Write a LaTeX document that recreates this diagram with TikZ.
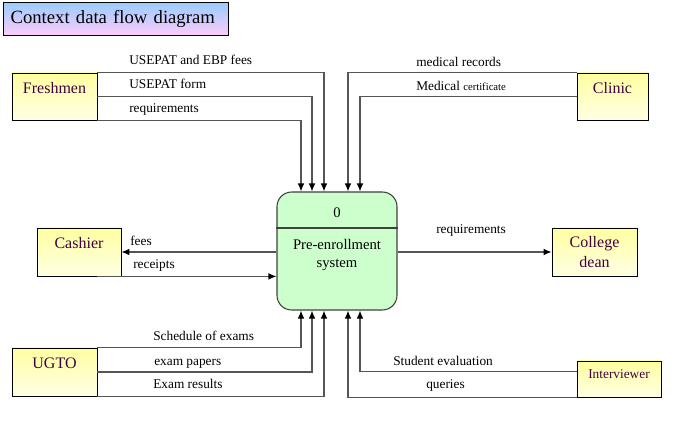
\documentclass[tikz,border=0pt]{standalone}
\usepackage{fontspec}
\setmainfont{Liberation Serif}
\usepackage{xcolor}
\usepackage{tikz}
\usetikzlibrary{arrows.meta, positioning, calc}

\definecolor{entTop}{RGB}{255,255,160}
\definecolor{entBot}{RGB}{255,255,228}
\definecolor{entText}{RGB}{64,0,64}
\definecolor{procFill}{RGB}{204,255,204}
\definecolor{flowGray}{RGB}{85,85,85}
\definecolor{titleTop}{RGB}{153,204,255}
\definecolor{titleBot}{RGB}{255,204,250}

\begin{document}
\begin{tikzpicture}[x=0.75pt, y=-0.75pt,
  entity/.style={draw=black, line width=0.6pt, top color=entTop, bottom color=entBot,
    inner sep=0pt, font=\fontsize{12}{14.5}\selectfont, text=entText, align=center},
  ent1/.style={entity, text height=8pt, text depth=13pt},
  flow/.style={draw=flowGray, line width=0.9pt, -{Latex[length=6pt, width=5pt, color=black]}},
  flabel/.style={font=\fontsize{10}{12}\selectfont, inner sep=0pt, anchor=base west}]
  % context DFD, pixel grid 686x434, y downwards
  \useasboundingbox (0,0) rectangle (686,434);

  % title
  \node[draw=black, line width=0.6pt, top color=titleTop, bottom color=titleBot,
        minimum height=24.75pt, text width=158pt, inner xsep=5.4pt, inner ysep=0pt,
        align=left, anchor=north west, font=\fontsize{14}{16}\selectfont]
        (title) at (3,2) {Context data flow diagram};

  % process 0
  \node[draw=black!75, line width=0.8pt, fill=procFill, rounded corners=11pt,
        minimum width=90pt, minimum height=88.5pt, align=center,
        font=\fontsize{11}{13.5}\selectfont] (proc) at (337,251)
        {\rule{0pt}{14pt}Pre-enrollment\\system};
  \draw[draw=black!75, line width=0.8pt] (proc.west |- 0,228) -- (proc.east |- 0,228);
  \node[font=\fontsize{11}{13.5}\selectfont] (pnum) at (337,213) {0};

  % external entities
  \node[ent1, minimum width=63.75pt, minimum height=35.25pt] (fresh) at (54.5,96.5) {Freshmen};
  \node[ent1, minimum width=53.25pt, minimum height=35.25pt] (clinic) at (612.5,96.5) {Clinic};
  \node[ent1, minimum width=63pt, minimum height=36pt] (cashier) at (79,252) {Cashier};
  \node[entity, minimum width=63.75pt, minimum height=36pt] (dean) at (594.5,252) {College\\dean};
  \node[ent1, minimum width=63.75pt, minimum height=36pt] (ugto) at (54.5,372) {UGTO};
  \node[ent1, minimum width=63pt, minimum height=27pt, text depth=8pt,
        font=\fontsize{10}{12}\selectfont] (interv) at (619,379) {Interviewer};

  % arrow entry points on top and bottom of the process
  \foreach \n/\dx in {1/-36, 2/-25, 3/-13, 4/11, 5/23} {
    \coordinate (t\n) at ($(proc.north)+(\dx,0)$);
    \coordinate (b\n) at ($(proc.south)+(\dx,0)$);
  }
  \coordinate (rcpt) at ($(cashier.south east)+(-24,0)$);
  \coordinate (ieval) at ($(interv.north west)!0.3!(interv.south west)$);

  % flows
  \draw[flow] (fresh.north east) -| (t3);
  \draw[flow] (fresh.east) -| (t2);
  \draw[flow] (fresh.south east) -| (t1);
  \draw[flow] (clinic.north west) -| (t4);
  \draw[flow] (clinic.west) -| (t5);
  \draw[flow] (proc.west |- cashier.east) -- (cashier.east);
  \draw[flow] (rcpt) -- (rcpt -| proc.west);
  \draw[flow] (proc.east |- dean.west) -- (dean.west);
  \draw[flow] (ugto.north east) -| (b1);
  \draw[flow] (ugto.east) -| (b2);
  \draw[flow] (ugto.south east) -| (b3);
  \draw[flow] (interv.south west) -| (b4);
  \draw[flow] (ieval) -| (b5);

  % flow labels
  \node[flabel] (lfees1) at (129,65) {USEPAT and EBP fees};
  \node[flabel] (lform) at (129,89) {USEPAT form};
  \node[flabel] (lreq1) at (129,113) {requirements};
  \node[flabel] (lmed) at (416,67) {medical records};
  \node[flabel] (lcert) at (416,91) {Medical {\fontsize{8}{10}\selectfont certificate}};
  \node[flabel] (lfees) at (130,246) {fees};
  \node[flabel] (lrcpt) at (133,269) {receipts};
  \node[flabel] (lreq2) at (436,234) {requirements};
  \node[flabel] (lsched) at (153,341) {Schedule of exams};
  \node[flabel] (lpapers) at (154,366) {exam papers};
  \node[flabel] (lres) at (153,389) {Exam results};
  \node[flabel] (leval) at (393,366) {Student evaluation};
  \node[flabel] (lquery) at (426,389) {queries};
\end{tikzpicture}
\end{document}
